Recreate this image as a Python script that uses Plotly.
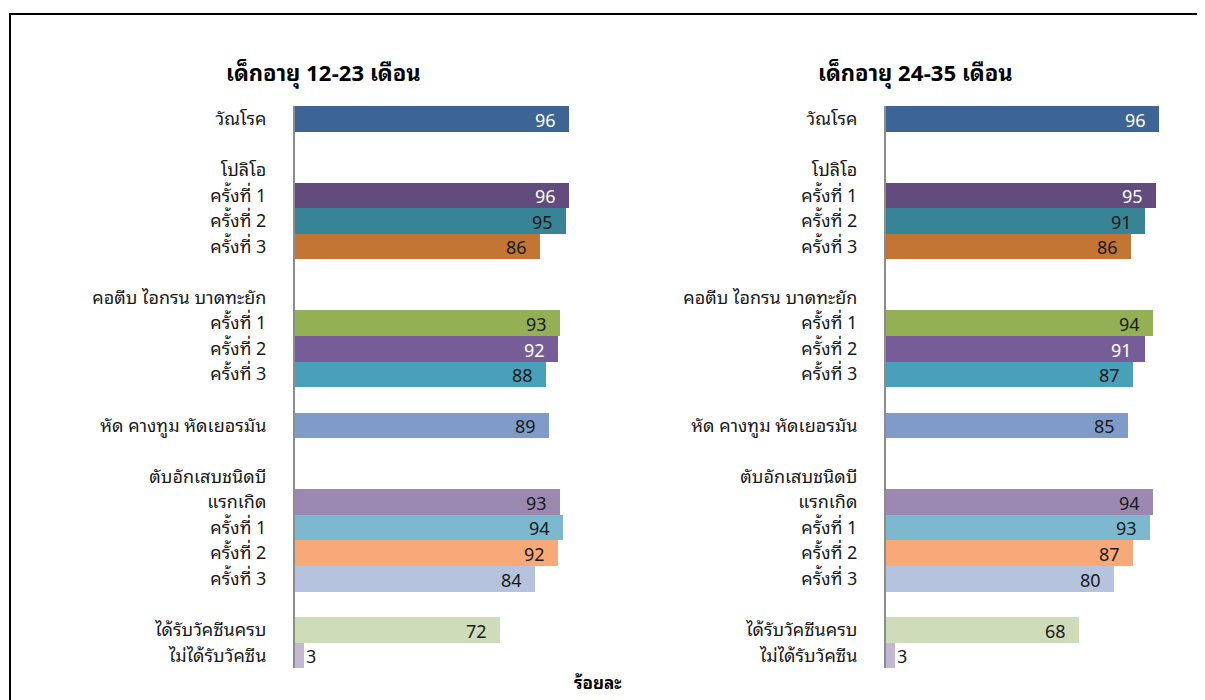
import plotly.graph_objects as go

categories = ["วัณโรค", "", "โปลิโอ", "ครั้งที่ 1", "ครั้งที่ 2", "ครั้งที่ 3", "",
              "คอตีบ ไอกรน บาดทะยัก", "ครั้งที่ 1", "ครั้งที่ 2", "ครั้งที่ 3", "",
              "หัด คางทูม หัดเยอรมัน", "", "ตับอักเสบชนิดบี", "แรกเกิด", "ครั้งที่ 1",
              "ครั้งที่ 2", "ครั้งที่ 3", "", "ได้รับวัคซีนครบ", "ไม่ได้รับวัคซีน"]
values_12_23 = [96, None, None, 96, 95, 86, None, None, 93, 92, 88, None, 89, None,
                None, 93, 94, 92, 84, None, 72, 3]
values_24_35 = [96, None, None, 95, 91, 86, None, None, 94, 91, 87, None, 85, None,
                None, 94, 93, 87, 80, None, 68, 3]
bar_colors = ["#3C6595", "#FFFFFF", "#FFFFFF", "#614C7D", "#388497", "#C37534", "#FFFFFF",
              "#FFFFFF", "#94B055", "#775D98", "#48A1B8", "#FFFFFF", "#7F9CC8", "#FFFFFF",
              "#FFFFFF", "#9C89B1", "#7CB9CF", "#F7A978", "#B5C3DE", "#FFFFFF", "#CFDCBA", "#C2B8D4"]
label_colors = ["white", "black", "black", "white", "black", "black", "black",
                "black", "black", "white", "black", "black", "black", "black",
                "black", "black", "black", "black", "black", "black", "black", "black"]
titles = ["เด็กอายุ 12-23 เดือน", "เด็กอายุ 24-35 เดือน"]
x_title = "ร้อยละ"

W, H = 1205, 700
OX, OY = 8, 8  # page body offset
FONT = "Tahoma, 'Noto Sans Thai Looped', 'Noto Sans Thai', 'Leelawadee UI', 'Noto Sans', sans-serif"
rows = list(range(len(categories)))


def fx(px):
    return (px - OX) / W


def fy(py):
    return 1 - (py - OY) / H


fig = go.Figure()
panels = [(values_12_23, "x", "y"), (values_24_35, "x2", "y2")]
for vals, xa, ya in panels:
    fig.add_trace(go.Bar(
        x=vals, y=rows, orientation="h", width=1.0,
        marker=dict(color=bar_colors, line=dict(width=0)),
        xaxis=xa, yaxis=ya, showlegend=False, hoverinfo="x",
    ))
    for r, v in zip(rows, vals):
        if v is None:
            continue
        if v < 10:
            fig.add_annotation(x=v, y=r, xref=xa, yref=ya, text=str(v), showarrow=False,
                               xanchor="left", xshift=1, borderpad=0,
                               font=dict(size=18, color="#1a1a1a", family=FONT))
        else:
            fig.add_annotation(x=v, y=r, xref=xa, yref=ya, text=str(v), showarrow=False,
                               xanchor="right", xshift=-12, borderpad=0,
                               font=dict(size=18, color=("white" if label_colors[r] == "white" else "#1a1a1a"), family=FONT))

y_dom = [fy(667.8), fy(103.2)]
axis_common_y = dict(
    domain=y_dom, range=[len(categories) - 0.5, -0.5], tickmode="array",
    tickvals=rows, ticktext=categories, showline=True, linecolor="#8c8c8c", linewidth=2,
    ticks="", showgrid=False, zeroline=False, ticklabelstandoff=23,
    tickfont=dict(size=18, color="#1a1a1a", family=FONT),
)
fig.update_layout(
    width=W, height=H, margin=dict(l=0, r=0, t=0, b=0),
    paper_bgcolor="white", plot_bgcolor="white", bargap=0,
    xaxis=dict(domain=[fx(295), fx(580.4)], range=[0, 100], visible=False, anchor="y"),
    yaxis=dict(anchor="x", **axis_common_y),
    xaxis2=dict(domain=[fx(886), fx(1170.4)], range=[0, 100], visible=False, anchor="y2"),
    yaxis2=dict(anchor="x2", **axis_common_y),
    font=dict(family=FONT),
)
fig.add_annotation(x=fx(323), y=fy(68), xref="paper", yref="paper", text=f"<b>{titles[0]}</b>",
                   xanchor="center", yanchor="middle",
                   showarrow=False, font=dict(size=22, color="black", family=FONT))
fig.add_annotation(x=fx(915), y=fy(68), xref="paper", yref="paper", text=f"<b>{titles[1]}</b>",
                   xanchor="center", yanchor="middle",
                   showarrow=False, font=dict(size=22, color="black", family=FONT))
fig.add_annotation(x=fx(597), y=fy(681), xref="paper", yref="paper", text=f"<b>{x_title}</b>",
                   xanchor="center", yanchor="middle",
                   showarrow=False, font=dict(size=17, color="black", family=FONT))
fig.add_shape(type="rect", xref="paper", yref="paper", x0=fx(10), x1=1.02, y0=-0.02, y1=fy(11),
              line=dict(color="black", width=2), fillcolor="rgba(0,0,0,0)", layer="above")

fig.write_html("out.html")
